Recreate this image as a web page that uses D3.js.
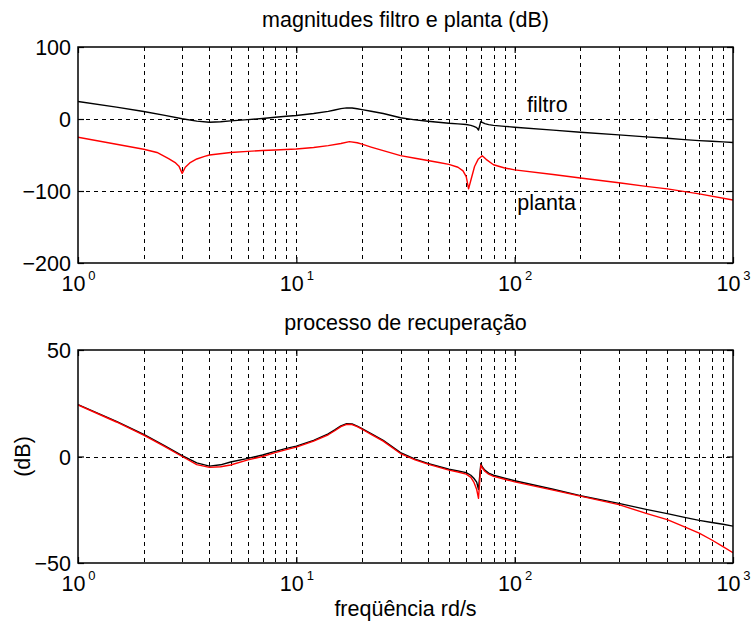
<!DOCTYPE html>
<html>
<head>
<meta charset="utf-8">
<script src="https://cdn.jsdelivr.net/npm/d3@7"></script>
<style>
  html, body { margin: 0; padding: 0; background: #fff; }
  svg { display: block; }
  text { font-family: "Liberation Sans", Arial, Helvetica, sans-serif; fill: #000; }
</style>
</head>
<body>
<svg id="chart" width="752" height="627"></svg>
<script>
// Frequency samples (rad/s) shared by the filter and the recovered loop
const freq = [1, 1.5, 2, 2.5, 3, 3.5, 4, 4.5, 5, 6, 7, 8, 9, 10, 12, 14, 15, 16, 17, 18,
  19, 20, 22, 25, 30, 35, 40, 50, 55, 60, 63, 65, 67, 68.3, 70, 71, 73, 76, 80, 90,
  100, 150, 200, 300, 400, 500, 600, 700, 800, 900, 1000];

// Filter magnitude (dB)
const filtroDb = [24.4, 16.5, 10.4, 5.0, 0.4, -3.0, -4.5, -3.9, -2.6, -0.9, 0.7, 2.4, 3.8, 4.9, 7.6, 10.6, 12.5, 14.4, 15.4, 15.3,
  14.3, 13.1, 10.8, 7.6, 1.8, -1.2, -3.2, -6.0, -6.8, -7.6, -8.8, -10.2, -12.0, -15.4, -3.3, -4.8, -6.4, -7.8, -8.8, -10.2,
  -11.4, -15.4, -18.4, -22.0, -24.8, -26.8, -28.6, -30.0, -31.0, -31.8, -32.7];

// Recovered loop magnitude (dB)
const recupDb = [24.2, 16.2, 10.0, 4.6, 0.0, -3.8, -5.1, -4.8, -4.0, -1.6, 0.0, 1.8, 3.2, 4.4, 7.2, 10.2, 12.1, 14.0, 15.1, 15.0,
  14.0, 12.8, 10.4, 7.2, 1.4, -1.6, -3.6, -6.4, -7.3, -8.3, -9.8, -12.0, -15.5, -19.6, -4.0, -5.3, -6.9, -8.3, -9.3, -10.7,
  -11.9, -15.8, -18.6, -22.6, -26.7, -29.6, -33.0, -36.0, -39.2, -42.3, -45.2];

// Plant frequency samples and magnitude (dB)
const freqPlanta = [1, 1.5, 2, 2.3, 2.6, 2.8, 2.9, 3.0, 3.1, 3.25, 3.5, 3.8, 4, 5, 6, 7, 8, 10, 12, 14,
  16, 17.5, 19, 20, 22, 25, 30, 35, 40, 45, 50, 55, 58, 60, 61.5, 63, 65.5, 68, 71, 74,
  80, 90, 100, 150, 200, 300, 400, 500, 700, 1000];
const plantaDb = [-25.3, -35, -42, -46.5, -55, -61, -65.5, -75.5, -67, -61, -55.5, -52, -50, -46.6, -45, -43.8, -43, -41.6, -39.5, -37,
  -34, -31.5, -33, -35, -39, -44, -50.8, -54.5, -57.7, -60.5, -63, -67, -72, -80, -97, -85, -66, -56, -51, -56,
  -63.5, -68, -70.6, -77, -82, -88.5, -93.5, -97, -104, -112.5];

// Axis ticks
const xTicks = [1, 10, 100, 1000];
const xExponents = ["0", "1", "2", "3"];
const yTicksTop = [-200, -100, 0, 100];
const yTicksBottom = [-50, 0, 50];

// Curve annotations in the upper panel
const labelText = ["filtro", "planta"];
const labelFreq = [113.9, 102.8];
const labelDb = [9.6, -126.2];

const titles = ["magnitudes filtro e planta (dB)", "processo de recuperação"];
const xLabel = "freqüência rd/s";
const yLabel = "(dB)";

const svg = d3.select("#chart");
const FONT = 21.5;
const left = 78, right = 733;

// Minor + major grid positions (log decades, excluding the borders)
const gridX = [];
for (let d = 1; d <= 100; d *= 10) {
  for (let m = 1; m <= 9; m++) {
    const v = m * d;
    if (v > 1 && v < 1000) gridX.push(v);
  }
}

function panel(cfg) {
  const x = d3.scaleLog().domain([1, 1000]).range([left, right]);
  const y = d3.scaleLinear().domain(cfg.yDomain).range([cfg.bottom, cfg.top]);
  const g = svg.append("g");

  // dashed grid
  const grid = g.append("g").attr("stroke", "#000").attr("stroke-width", 1)
    .attr("stroke-dasharray", "4,4").attr("shape-rendering", "crispEdges");
  grid.selectAll("line.vx").data(gridX).join("line")
    .attr("x1", d => Math.round(x(d)) + 0.5).attr("x2", d => Math.round(x(d)) + 0.5)
    .attr("y1", cfg.top).attr("y2", cfg.bottom);
  grid.selectAll("line.hy").data(cfg.yTicks.filter(v => v > cfg.yDomain[0] && v < cfg.yDomain[1])).join("line")
    .attr("x1", left).attr("x2", right)
    .attr("y1", d => Math.round(y(d)) + 0.5).attr("y2", d => Math.round(y(d)) + 0.5);

  // curves
  const clipId = "clip" + cfg.id;
  svg.append("clipPath").attr("id", clipId).append("rect")
    .attr("x", left).attr("y", cfg.top).attr("width", right - left).attr("height", cfg.bottom - cfg.top);
  const line = d3.line().x(d => x(d[0])).y(d => y(d[1]));
  cfg.series.forEach(s => {
    g.append("path")
      .attr("clip-path", `url(#${clipId})`)
      .attr("d", line(d3.zip(s.f, s.v)))
      .attr("fill", "none").attr("stroke", s.color).attr("stroke-width", 1.4)
      .attr("stroke-linejoin", "round");
  });

  // axes with inward ticks
  const axL = d3.axisLeft(y).tickValues(cfg.yTicks).tickSizeInner(-6).tickSizeOuter(0).tickPadding(7)
    .tickFormat(d3.format("d"));
  const axR = d3.axisRight(y).tickValues(cfg.yTicks).tickSizeInner(-6).tickSizeOuter(0).tickFormat("");
  const axB = d3.axisBottom(x).tickValues(xTicks).tickSizeInner(-6).tickSizeOuter(0).tickFormat("");
  const axT = d3.axisTop(x).tickValues(xTicks).tickSizeInner(-6).tickSizeOuter(0).tickFormat("");

  const gl = g.append("g").attr("transform", `translate(${left},0)`).call(axL);
  g.append("g").attr("transform", `translate(${right},0)`).call(axR);
  const gb = g.append("g").attr("transform", `translate(0,${cfg.bottom})`).call(axB);
  g.append("g").attr("transform", `translate(0,${cfg.top})`).call(axT);
  g.selectAll(".domain").remove();
  g.selectAll(".tick line").attr("stroke", "#000").attr("stroke-width", 1.2);

  gl.selectAll(".tick text")
    .attr("font-size", FONT).attr("font-family", "Liberation Sans, Arial, sans-serif")
    .attr("dy", "0.35em").attr("fill", "#000");

  gb.selectAll(".tick text").remove();
  gb.selectAll(".tick").each(function (d, i) {
    const t = d3.select(this).append("text")
      .attr("y", 28).attr("text-anchor", "middle")
      .attr("font-size", FONT).attr("font-family", "Liberation Sans, Arial, sans-serif").attr("fill", "#000");
    t.append("tspan").text("10");
    t.append("tspan").attr("dx", 3).attr("dy", -11).attr("font-size", 13).text(xExponents[i]);
  });

  // frame
  g.append("rect").attr("x", left).attr("y", cfg.top)
    .attr("width", right - left).attr("height", cfg.bottom - cfg.top)
    .attr("fill", "none").attr("stroke", "#000").attr("stroke-width", 1.5);

  // title
  svg.append("text").attr("x", (left + right) / 2).attr("y", cfg.top - 20)
    .attr("text-anchor", "middle").attr("font-size", FONT).text(cfg.title);

  return { x, y, g };
}

const topPanel = panel({
  id: "a", top: 47, bottom: 263, yDomain: [-200, 100], yTicks: yTicksTop, title: titles[0],
  series: [
    { f: freq, v: filtroDb, color: "#000000" },
    { f: freqPlanta, v: plantaDb, color: "#ff0000" }
  ]
});

labelText.forEach((t, i) => {
  svg.append("text").attr("x", topPanel.x(labelFreq[i])).attr("y", topPanel.y(labelDb[i]))
    .attr("font-size", FONT).text(t);
});

panel({
  id: "b", top: 350, bottom: 563, yDomain: [-50, 50], yTicks: yTicksBottom, title: titles[1],
  series: [
    { f: freq, v: filtroDb, color: "#000000" },
    { f: freq, v: recupDb, color: "#ff0000" }
  ]
});

svg.append("text").attr("x", (left + right) / 2).attr("y", 615.5)
  .attr("text-anchor", "middle").attr("font-size", FONT).text(xLabel);

svg.append("text").attr("transform", "translate(30,456.5) rotate(-90)")
  .attr("text-anchor", "middle").attr("font-size", FONT).text(yLabel);
</script>
</body>
</html>
